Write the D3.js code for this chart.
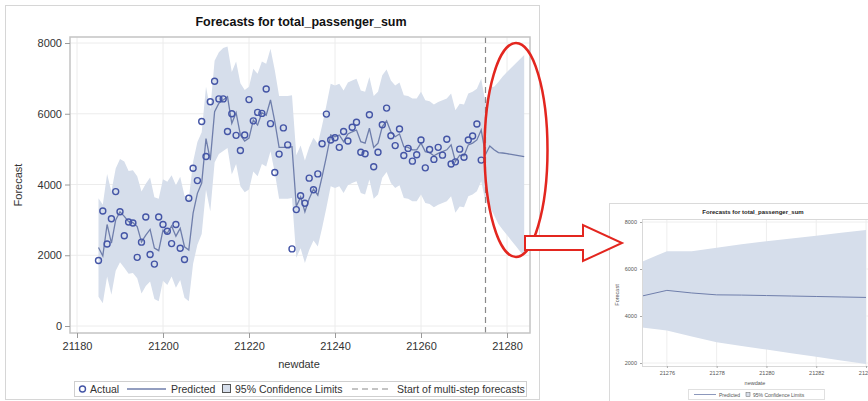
<!DOCTYPE html>
<html><head><meta charset="utf-8">
<script src="https://cdn.jsdelivr.net/npm/d3@7"></script>
<style>
html,body{margin:0;padding:0;background:#fff;}
svg{display:block;font-family:"Liberation Sans",Arial,sans-serif;}
</style></head><body>
<svg id="chart" width="868" height="401"></svg>
<script>
// ---- data -------------------------------------------------------------
const titleText = "Forecasts for total_passenger_sum";
const firstDate = 21185;          // first day with an observation
const forecastStart = 21275;      // first multi-step forecast day

// observed daily totals, 21185 .. 21274
const actual = [
  1850, 3250, 2320, 3030, 3800, 3230, 2550, 2940, 2910, 1940,
  2370, 3080, 2020, 1750, 3080, 2870, 2680, 2330, 2870, 2200,
  1880, 3610, 4460, 4110, 5780, 4790, 6340, 6920, 6420, 6420,
  5500, 6000, 5390, 4960, 5400, 6400, 5800, 6040, 6010, 6700,
  5720, 4340, 4860, 5600, 5120, 2180, 3290, 3680, 3470, 4180,
  3850, 4300, 5150, 5990, 5260, 5320, 5050, 5500, 5230, 5620,
  5760, 4910, 4870, 5970, 4500, 4910, 5690, 6160, 5380, 5100,
  5570, 4820, 5020, 4660, 4840, 5260, 4470, 4990, 4710, 5050,
  4830, 5280, 4580, 4640, 5000, 4770, 5260, 5370, 5710, 4690
];

// model prediction, 21185 .. 21284
const predicted = [
  2220, 1980, 2870, 2340, 3000, 3230, 3100, 2950, 2920, 2810,
  2380, 2570, 2730, 2200, 2130, 2710, 2620, 2830, 2540, 2760,
  2240, 2150, 3190, 3750, 4040, 5300, 4690, 6060, 6300, 6390,
  6480, 5730, 6030, 5400, 5230, 5310, 5820, 5680, 6030, 5960,
  6390, 5780, 5050, 5050, 5050, 5070, 3380, 3650, 3230, 3600,
  3870, 3700, 4220, 4790, 5400, 5350, 5400, 5210, 5430, 5490,
  5540, 5210, 5170, 5590, 5050, 5170, 5640, 5800, 5490, 5350,
  5430, 5070, 5050, 4980, 4980, 5170, 4930, 4900, 4810, 4880,
  4930, 4980, 5120, 4650, 4830, 4810, 5120, 5170, 5260, 5540,
  4850, 5090, 4980, 4900, 4890, 4870, 4850, 4830, 4810, 4790
];

// upper 95% confidence limit, 21185 .. 21284
const upper95 = [
  3610, 3430, 4300, 3800, 4450, 4720, 4650, 4380, 4400, 4230,
  3800, 4020, 4200, 3640, 3600, 4150, 4080, 4260, 3980, 4220,
  3680, 3600, 4640, 5200, 5480, 6760, 6130, 7500, 7740, 7860,
  7900, 7180, 7480, 6860, 6670, 6760, 7270, 7130, 7480, 7410,
  7840, 7230, 6500, 6500, 6500, 6520, 4830, 5100, 4680, 5050,
  5320, 5150, 5670, 6240, 6850, 6800, 6850, 6660, 6880, 6940,
  6990, 6660, 6620, 7040, 6500, 6620, 7090, 7250, 6940, 6800,
  6880, 6520, 6500, 6430, 6430, 6620, 6380, 6350, 6260, 6330,
  6380, 6430, 6570, 6100, 6280, 6260, 6570, 6620, 6710, 6990,
  6310, 6760, 6760, 6900, 7050, 7180, 7300, 7420, 7540, 7660
];

// lower 95% confidence limit, 21185 .. 21284
const lower95 = [
   830,  640, 1400,  880, 1560, 1800, 1650, 1480, 1500, 1350,
   920, 1130, 1260,  760,  700, 1280, 1160, 1400, 1080, 1300,
   800,  700, 1760, 2300, 2600, 3850, 3240, 4620, 4860, 4950,
  5030, 4280, 4580, 3950, 3780, 3860, 4370, 4230, 4580, 4510,
  4940, 4330, 3600, 3600, 3600, 3620, 1930, 2200, 1780, 2150,
  2420, 2250, 2770, 3340, 3950, 3900, 3950, 3760, 3980, 4040,
  4090, 3760, 3720, 4140, 3600, 3720, 4190, 4350, 4040, 3900,
  3980, 3620, 3600, 3530, 3530, 3720, 3480, 3450, 3360, 3430,
  3480, 3530, 3670, 3200, 3380, 3360, 3670, 3720, 3810, 4090,
  3510, 3380, 3130, 2880, 2720, 2570, 2420, 2270, 2110, 1960
];

const xTicks = [21180, 21200, 21220, 21240, 21260, 21280];
const yTicks = [0, 2000, 4000, 6000, 8000];
const insetXTicks = [21276, 21278, 21280, 21282, 21284];
const insetYTicks = [2000, 4000, 6000, 8000];

// ---- drawing ----------------------------------------------------------
const C = {
  band: "#d6deeb", line: "#6f7eab", marker: "#4455a6",
  grid: "#ececec", frame: "#c4c4c4", text: "#333", red: "#e3261f"
};

const rows = predicted.map((p, i) => ({
  date: firstDate + i,
  pred: p,
  hi: upper95[i],
  lo: lower95[i],
  act: i < actual.length ? actual[i] : null
}));

const svg = d3.select("#chart");

// outer frame of the main figure
svg.append("rect").attr("x", 5.5).attr("y", 5.5).attr("width", 534).attr("height", 394)
  .attr("fill", "#fff").attr("stroke", "#d6d6d6");

// ---------- main panel ----------
const P = { l: 70, r: 530, t: 37, b: 333 };
const x = d3.scaleLinear().domain([21180, 21280]).range([77, 507]);
const y = d3.scaleLinear().domain([0, 8000]).range([326, 43]);

const main = svg.append("g");

// grid
main.append("g").selectAll("line.vg").data(xTicks).join("line")
  .attr("x1", d => x(d)).attr("x2", d => x(d)).attr("y1", P.t).attr("y2", P.b)
  .attr("stroke", C.grid);
main.append("g").selectAll("line.hg").data(yTicks).join("line")
  .attr("x1", P.l).attr("x2", P.r).attr("y1", d => y(d)).attr("y2", d => y(d))
  .attr("stroke", C.grid);

// confidence band
main.append("path").datum(rows)
  .attr("d", d3.area().x(d => x(d.date)).y0(d => y(d.lo)).y1(d => y(d.hi)))
  .attr("fill", C.band);

// predicted
main.append("path").datum(rows)
  .attr("d", d3.line().x(d => x(d.date)).y(d => y(d.pred)))
  .attr("fill", "none").attr("stroke", C.line).attr("stroke-width", 1.3);

// start of multi-step forecasts
main.append("line")
  .attr("x1", x(forecastStart)).attr("x2", x(forecastStart))
  .attr("y1", P.t).attr("y2", P.b)
  .attr("stroke", "#8a8a8a").attr("stroke-width", 1.2).attr("stroke-dasharray", "6,4");

// actual
main.append("g").selectAll("circle").data(rows.filter(d => d.act !== null)).join("circle")
  .attr("cx", d => x(d.date)).attr("cy", d => y(d.act)).attr("r", 3)
  .attr("fill", "none").attr("stroke", C.marker).attr("stroke-width", 1.4);

// frame
main.append("rect").attr("x", P.l).attr("y", P.t).attr("width", P.r - P.l).attr("height", P.b - P.t)
  .attr("fill", "none").attr("stroke", C.frame).attr("stroke-width", 1.5);

// axes
const ax = main.append("g").attr("transform", `translate(0,${P.b})`)
  .call(d3.axisBottom(x).tickValues(xTicks).tickFormat(d3.format("d")).tickSize(5).tickPadding(4));
const ay = main.append("g").attr("transform", `translate(${P.l},0)`)
  .call(d3.axisLeft(y).tickValues(yTicks).tickFormat(d3.format("d")).tickSize(5).tickPadding(3));
[ax, ay].forEach(a => {
  a.select(".domain").remove();
  a.selectAll(".tick line").attr("stroke", "#9a9a9a");
  a.selectAll(".tick text").attr("fill", C.text).style("font-size", "11px")
    .style("font-family", '"Liberation Sans",Arial,sans-serif');
});

main.append("text").attr("x", 301).attr("y", 26).attr("text-anchor", "middle")
  .style("font-size", "12.5px").style("font-weight", "bold").attr("fill", "#111").text(titleText);
main.append("text").attr("x", 299).attr("y", 368).attr("text-anchor", "middle")
  .style("font-size", "11px").attr("fill", C.text).text("newdate");
main.append("text").attr("transform", "translate(22,185) rotate(-90)").attr("text-anchor", "middle")
  .style("font-size", "11px").attr("fill", C.text).text("Forecast");

// legend
const lg = main.append("g");
lg.append("rect").attr("x", 74.5).attr("y", 381.5).attr("width", 452).attr("height", 15)
  .attr("fill", "none").attr("stroke", "#cfcfcf");
const ly = 389, lt = 393;
lg.append("circle").attr("cx", 82.5).attr("cy", ly).attr("r", 3)
  .attr("fill", "none").attr("stroke", C.marker).attr("stroke-width", 1.4);
lg.append("text").attr("x", 90).attr("y", lt).style("font-size", "10.5px").attr("fill", C.text).text("Actual");
lg.append("line").attr("x1", 127).attr("x2", 166).attr("y1", ly).attr("y2", ly)
  .attr("stroke", C.line).attr("stroke-width", 1.3);
lg.append("text").attr("x", 171).attr("y", lt).style("font-size", "10.5px").attr("fill", C.text).text("Predicted");
lg.append("rect").attr("x", 222.5).attr("y", 384.5).attr("width", 8).attr("height", 8)
  .attr("fill", C.band).attr("stroke", "#555");
lg.append("text").attr("x", 235).attr("y", lt).style("font-size", "10.5px").attr("fill", C.text).text("95% Confidence Limits");
lg.append("line").attr("x1", 352).attr("x2", 388).attr("y1", ly).attr("y2", ly)
  .attr("stroke", "#8a8a8a").attr("stroke-width", 1.2).attr("stroke-dasharray", "6,4");
lg.append("text").attr("x", 397).attr("y", lt).style("font-size", "10.5px").attr("fill", C.text).text("Start of multi-step forecasts");

// ---------- enlarged forecast panel ----------
const I = { l: 642, r: 868, t: 219, b: 366 };
const ix = d3.scaleLinear().domain([21275, 21284]).range([642, 866]);
const iy = d3.scaleLinear().domain([2000, 8000]).range([363, 222]);
const fc = rows.filter(d => d.date >= forecastStart);

const inset = svg.append("g");
inset.append("rect").attr("x", 609.5).attr("y", 203.5).attr("width", 300).attr("height", 220)
  .attr("fill", "#fff").attr("stroke", "#dadada");

svg.append("clipPath").attr("id", "insetClip").append("rect")
  .attr("x", I.l).attr("y", I.t).attr("width", I.r - I.l).attr("height", I.b - I.t);

const ip = inset.append("g").attr("clip-path", "url(#insetClip)");
ip.selectAll("line.vg").data(insetXTicks).join("line")
  .attr("x1", d => ix(d)).attr("x2", d => ix(d)).attr("y1", I.t).attr("y2", I.b).attr("stroke", "#eeeeee");
ip.selectAll("line.hg").data(insetYTicks).join("line")
  .attr("x1", I.l).attr("x2", I.r).attr("y1", d => iy(d)).attr("y2", d => iy(d)).attr("stroke", "#eeeeee");
ip.append("path").datum(fc)
  .attr("d", d3.area().x(d => ix(d.date)).y0(d => iy(d.lo)).y1(d => iy(d.hi)))
  .attr("fill", C.band);
ip.append("path").datum(fc)
  .attr("d", d3.line().x(d => ix(d.date)).y(d => iy(d.pred)))
  .attr("fill", "none").attr("stroke", C.line).attr("stroke-width", 1);
inset.append("rect").attr("x", I.l + 0.5).attr("y", I.t + 0.5).attr("width", 240).attr("height", I.b - I.t)
  .attr("fill", "none").attr("stroke", "#d9d9d9");

const iax = inset.append("g").attr("transform", `translate(0,${I.b})`)
  .call(d3.axisBottom(ix).tickValues(insetXTicks).tickFormat(d3.format("d")).tickSize(2).tickPadding(3));
const iay = inset.append("g").attr("transform", `translate(${I.l},0)`)
  .call(d3.axisLeft(iy).tickValues(insetYTicks).tickFormat(d3.format("d")).tickSize(2).tickPadding(3));
[iax, iay].forEach(a => {
  a.select(".domain").remove();
  a.selectAll(".tick line").attr("stroke", "#aaa");
  a.selectAll(".tick text").attr("fill", "#555").style("font-size", "5.5px")
    .style("font-family", '"Liberation Sans",Arial,sans-serif');
});
inset.append("text").attr("x", 753).attr("y", 214).attr("text-anchor", "middle")
  .style("font-size", "6px").style("font-weight", "bold").attr("fill", "#222").text(titleText);
inset.append("text").attr("x", 755).attr("y", 385).attr("text-anchor", "middle")
  .style("font-size", "5.5px").attr("fill", "#555").text("newdate");
inset.append("text").attr("transform", "translate(619,295) rotate(-90)").attr("text-anchor", "middle")
  .style("font-size", "5.5px").attr("fill", "#555").text("Forecast");
inset.append("rect").attr("x", 688.5).attr("y", 389.5).attr("width", 136).attr("height", 10)
  .attr("fill", "none").attr("stroke", "#e0e0e0");
inset.append("line").attr("x1", 694).attr("x2", 716).attr("y1", 394.5).attr("y2", 394.5)
  .attr("stroke", C.line).attr("stroke-width", 0.8);
inset.append("text").attr("x", 719).attr("y", 396.5).style("font-size", "5px").attr("fill", "#555").text("Predicted");
inset.append("rect").attr("x", 746).attr("y", 392.5).attr("width", 4).attr("height", 4)
  .attr("fill", C.band).attr("stroke", "#666").attr("stroke-width", 0.5);
inset.append("text").attr("x", 753).attr("y", 396.5).style("font-size", "5px").attr("fill", "#555").text("95% Confidence Limits");

// ---------- callout: ellipse and arrow ----------
svg.append("ellipse").attr("cx", 516).attr("cy", 150).attr("rx", 31.5).attr("ry", 107)
  .attr("fill", "none").attr("stroke", C.red).attr("stroke-width", 2.5);
svg.append("path")
  .attr("d", "M525,236 L583,236 L583,225 L622,243 L583,261 L583,250 L525,250 Z")
  .attr("fill", "#fff").attr("stroke", C.red).attr("stroke-width", 2).attr("stroke-linejoin", "miter");
</script>
</body></html>
